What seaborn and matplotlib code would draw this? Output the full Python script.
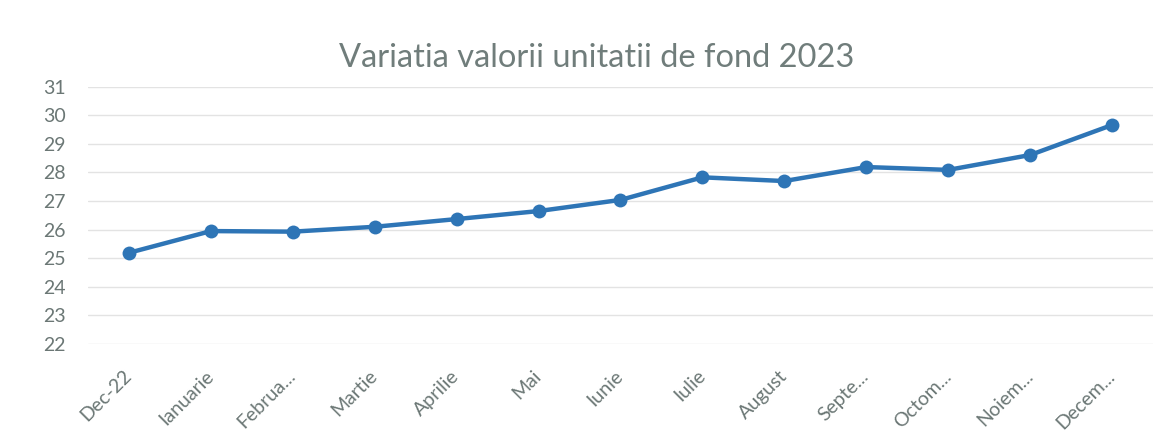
import matplotlib
matplotlib.use("Agg")
import matplotlib.pyplot as plt
import seaborn as sns
import pandas as pd

months = ["Dec-22", "Ianuarie", "Februa...", "Martie", "Aprilie", "Mai", "Iunie",
          "Iulie", "August", "Septe...", "Octom...", "Noiem...", "Decem..."]
values = [25.19, 25.95, 25.93, 26.10, 26.37, 26.65, 27.04,
          27.83, 27.70, 28.19, 28.09, 28.61, 29.66]
yticks = [22, 23, 24, 25, 26, 27, 28, 29, 30, 31]
title = "Variatia valorii unitatii de fond 2023"

sns.set_theme(style="white")
plt.rcParams["font.family"] = ["Lato", "DejaVu Sans"]

df = pd.DataFrame({"luna": months, "valoare": values})
df["pos"] = range(len(months))

fig = plt.figure(figsize=(11.67, 4.37), dpi=100)
ax = fig.add_axes([0.0754, 0.2128, 0.9126, 0.5888])

text_color = "#6b7775"
sns.lineplot(data=df, x="pos", y="valoare", ax=ax, color="#2e75b6",
             linewidth=3.2, marker="o", markersize=10, markeredgewidth=0,
             sort=False)

ax.set_xlim(-0.5, len(months) - 0.5)
ax.set_ylim(22, 31)
ax.set_yticks(yticks)
ax.set_yticklabels([str(v) for v in yticks], fontsize=14, color=text_color)
ax.set_xticks(df["pos"])
ax.set_xticklabels(months, rotation=45, ha="right", va="center",
                   rotation_mode="anchor", fontsize=14, color=text_color)
ax.tick_params(axis="both", length=0)
ax.tick_params(axis="y", pad=16)
ax.tick_params(axis="x", pad=21)
ax.yaxis.grid(True, color="#e3e3e3", linewidth=1)
ax.set_axisbelow(True)
for s in ax.spines.values():
    s.set_visible(False)
ax.set_xlabel("")
ax.set_ylabel("")

fig.text(0.511, 0.8467, title, ha="center", va="baseline", fontsize=23.5,
         color="#707d7b")

fig.savefig("out.png", dpi=100)
